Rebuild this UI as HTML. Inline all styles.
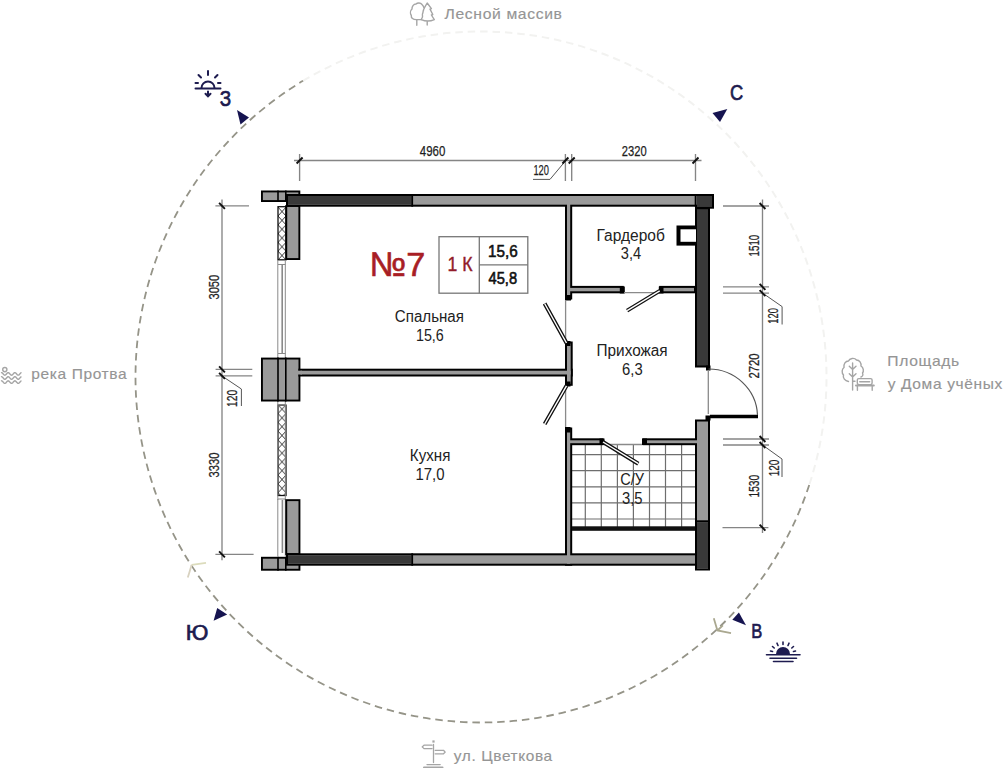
<!DOCTYPE html>
<html><head><meta charset="utf-8">
<style>
html,body{margin:0;padding:0;background:#fff;width:1003px;height:768px;overflow:hidden}
svg{position:absolute;left:0;top:0;display:block}
text{font-family:"Liberation Sans",sans-serif}
.dim{fill:#1e1e1e;stroke:#1e1e1e;stroke-width:0.25px;font-size:13.5px}
.room{fill:#222;font-size:15.5px}
.lbl{fill:#959595;stroke:#959595;stroke-width:0.15px;font-size:15px}
.cmp{fill:#1d1b4f;stroke:#1d1b4f;stroke-width:0.7px;font-size:19px}
.no{fill:#a81e25;stroke:#a81e25;stroke-width:0.6px}
.k1{fill:#921c2a;stroke:#921c2a;stroke-width:0.4px}
.ar{fill:#111;stroke:#111;stroke-width:0.6px}
</style></head>
<body>
<svg width="1003" height="768" viewBox="0 0 1003 768">
<defs>
<pattern id="hatchA" patternUnits="userSpaceOnUse" x="278" y="242.4" width="8" height="8.8">
<path d="M0 0L8 8.8M8 0L0 8.8" stroke="#222" stroke-width="0.9"/>
</pattern>
<pattern id="hatchB" patternUnits="userSpaceOnUse" x="278" y="413.5" width="8" height="8.8">
<path d="M0 0L8 8.8M8 0L0 8.8" stroke="#222" stroke-width="0.9"/>
</pattern>
</defs>

<!-- dashed compass circle -->
<g id="circle">
<path d="M303.05 80.85A345.5 345.5 0 0 1 809.22 484.91" fill="none" stroke="#f2f2f0" stroke-width="2" stroke-dasharray="7.5 4.9"/>
<path d="M809.22 484.91A345.5 345.5 0 1 1 303.05 80.85" fill="none" stroke="#959488" stroke-width="1.8" stroke-dasharray="7.5 4.9"/>
</g>

<!-- ===== PLAN ===== -->
<g id="plan">
<!-- dimension lines -->
<g stroke="#858585" stroke-width="1.35" fill="none">
<path d="M294 160.5H701.5"/>
<path d="M299.6 154V181M565.4 154V181M571.7 154V181M695.5 154V181"/>
<path d="M222 199.5V560.3"/>
<path d="M215.4 205.8H249M215.6 369.4H252.3M215.6 375.9H252.3M215.4 554.4H253.6"/>
<path d="M762.5 199.5V533"/>
<path d="M723 206H769M723 286.9H769M723 293.1H769M723 439H769M723 445H769M722.5 527.6H768.4"/>
</g>
<g stroke="#555" stroke-width="1" fill="none">
<path d="M533 179.4H550L565.4 161"/>
<path d="M222 376L241.4 389V406"/>
<path d="M762.5 293L782.1 306.6V324.5"/>
<path d="M762.5 445L782 459V477"/>
</g>
<g stroke="#111" stroke-width="1.9">
<path d="M296.6 163.5L302.6 157.5M562.4 163.5L568.4 157.5M568.7 163.5L574.7 157.5M692.5 163.5L698.5 157.5M219.1 202.8L224.9 208.8M219.1 366.4L224.9 372.4M219.1 372.9L224.9 378.9M219.1 551.4L224.9 557.4M759.6 203.0L765.4 209.0M759.6 283.9L765.4 289.9M759.6 290.1L765.4 296.1M759.6 436.0L765.4 442.0M759.6 442.0L765.4 448.0M759.6 524.6L765.4 530.6"/>
</g>

<g stroke="#6e6e6e" stroke-width="1.2">
<path d="M585.3 445V527M601.3 445V527M617.4 445V527M633.4 445V527M649.5 445V527M665.5 445V527M681.6 445V527M572 454.6H695M572 470.7H695M572 486.8H695M572 502.9H695M572 519.0H695"/>
</g>
<rect x="278.00" y="206.70" width="8.00" height="53.10" fill="url(#hatchA)" stroke="#111" stroke-width="1.3"/>
<rect x="278.00" y="405.10" width="8.00" height="90.40" fill="url(#hatchB)" stroke="#111" stroke-width="1.3"/>
<g stroke="#8a8a8a" stroke-width="1" fill="none"><path d="M277.8 260V358M285.3 260V358M277.8 401V500M285.3 401V500M277.8 499V556M285.3 499V556M278 264.5H285.5M278 499H285.5M278 405H285.5M278 353.5H285.5"/></g>
<g stroke="#8a8a8a" stroke-width="1.6"><path d="M282.2 265V353M282.4 500V553"/></g>
<rect x="261.00" y="190.50" width="39.30" height="11.50" fill="#000"/>
<rect x="262.90" y="192.40" width="35.50" height="7.70" fill="#9a9a9a"/>
<path d="M278 190.5V202M285.8 190.5V202" stroke="#000" stroke-width="1.6"/>
<rect x="261.00" y="357.60" width="39.40" height="43.90" fill="#000"/>
<rect x="262.90" y="359.50" width="35.60" height="40.10" fill="#9a9a9a"/>
<path d="M278 357.6V401.5M285.8 357.6V401.5" stroke="#000" stroke-width="1.6"/>
<rect x="261.00" y="556.80" width="39.40" height="13.90" fill="#000"/>
<rect x="262.90" y="558.70" width="35.60" height="10.10" fill="#9a9a9a"/>
<path d="M278 556.8V570.7M285.8 556.8V570.7" stroke="#000" stroke-width="1.6"/>
<rect x="285.30" y="205.00" width="15.00" height="55.00" fill="#000"/>
<rect x="287.20" y="206.90" width="11.20" height="51.20" fill="#9a9a9a"/>
<rect x="285.30" y="499.20" width="15.10" height="55.80" fill="#000"/>
<rect x="287.20" y="501.10" width="11.30" height="52.00" fill="#9a9a9a"/>
<rect x="286.00" y="194.00" width="428.00" height="12.70" fill="#000"/>
<rect x="695.00" y="194.00" width="19.00" height="14.70" fill="#000"/>
<rect x="695.00" y="207.20" width="15.00" height="160.30" fill="#000"/>
<rect x="695.00" y="419.50" width="15.00" height="151.00" fill="#000"/>
<rect x="286.00" y="553.30" width="411.00" height="12.40" fill="#000"/>
<rect x="565.00" y="194.00" width="7.20" height="105.50" fill="#000"/>
<rect x="298.40" y="368.70" width="274.30" height="7.80" fill="#000"/>
<rect x="565.00" y="341.50" width="7.70" height="44.30" fill="#000"/>
<rect x="565.00" y="427.50" width="7.20" height="138.20" fill="#000"/>
<rect x="565.00" y="285.90" width="58.80" height="7.40" fill="#000"/>
<rect x="659.20" y="285.90" width="36.80" height="7.40" fill="#000"/>
<rect x="565.00" y="438.30" width="38.50" height="6.90" fill="#000"/>
<rect x="642.50" y="438.30" width="67.50" height="6.90" fill="#000"/>
<rect x="288.00" y="196.00" width="424.00" height="8.70" fill="#9a9a9a"/>
<rect x="697.00" y="421.50" width="11.00" height="147.00" fill="#9a9a9a"/>
<rect x="288.00" y="555.30" width="407.00" height="8.40" fill="#9a9a9a"/>
<rect x="567.00" y="196.00" width="3.20" height="101.50" fill="#9a9a9a"/>
<rect x="300.40" y="370.70" width="270.30" height="3.80" fill="#9a9a9a"/>
<rect x="567.00" y="343.50" width="3.70" height="40.30" fill="#9a9a9a"/>
<rect x="567.00" y="429.50" width="3.20" height="134.20" fill="#9a9a9a"/>
<rect x="567.00" y="287.90" width="54.80" height="3.40" fill="#9a9a9a"/>
<rect x="661.20" y="287.90" width="32.80" height="3.40" fill="#9a9a9a"/>
<rect x="567.00" y="440.30" width="34.50" height="2.90" fill="#9a9a9a"/>
<rect x="644.50" y="440.30" width="63.50" height="2.90" fill="#9a9a9a"/>
<rect x="697.00" y="196.00" width="15.00" height="10.70" fill="#393939"/>
<rect x="697.00" y="209.20" width="11.00" height="156.30" fill="#393939"/>
<rect x="297.50" y="370.70" width="4.50" height="3.80" fill="#9a9a9a"/>
<rect x="288.00" y="196.00" width="123.50" height="8.70" fill="#393939"/>
<rect x="288.00" y="555.30" width="123.50" height="8.40" fill="#393939"/>
<rect x="411.30" y="194.00" width="1.80" height="12.70" fill="#000"/>
<rect x="411.30" y="553.30" width="1.80" height="12.40" fill="#000"/>
<rect x="697.00" y="196.00" width="15.00" height="10.70" fill="#393939"/>
<rect x="697.00" y="196.00" width="15.00" height="10.70" fill="#393939"/>
<rect x="695.00" y="520.30" width="15.00" height="1.80" fill="#000"/>
<rect x="697.00" y="522.10" width="11.00" height="46.40" fill="#393939"/>
<rect x="694.70" y="194.00" width="1.80" height="12.70" fill="#000"/>
<rect x="572.00" y="526.30" width="123.00" height="4.50" fill="#111"/>
<rect x="565.00" y="295.00" width="6.00" height="5.50" fill="#000"/>
<rect x="565.50" y="341.00" width="5.00" height="5.00" fill="#000"/>
<rect x="565.50" y="381.50" width="5.00" height="5.00" fill="#000"/>
<rect x="565.00" y="427.00" width="5.50" height="5.50" fill="#000"/>
<rect x="619.80" y="286.50" width="5.00" height="7.00" fill="#000"/>
<rect x="658.80" y="286.50" width="4.70" height="7.00" fill="#000"/>
<rect x="599.50" y="438.50" width="5.00" height="6.50" fill="#000"/>
<rect x="642.00" y="438.50" width="5.00" height="6.50" fill="#000"/>
<rect x="706.00" y="365.50" width="4.50" height="5.00" fill="#000"/>
<rect x="705.50" y="415.50" width="5.00" height="5.00" fill="#000"/>
<rect x="676.50" y="225.50" width="19.50" height="20.10" fill="#000"/>
<rect x="680.50" y="229.30" width="15.50" height="12.50" fill="#fff"/>
<g stroke="#8a8a8a" stroke-width="1.3" fill="none"><path d="M624 292.6H659M565.6 300V341M565.6 386V427M708.3 370V414M604 444.5H642"/></g>
<path d="M659.7 290.9L627.1 310.6M566.5 343L544.6 303.5M566.5 385.8L544.7 424M603 442L638.3 463.7" stroke="#111" stroke-width="4" stroke-linecap="butt"/>
<path d="M659.7 290.9L627.1 310.6M566.5 343L544.6 303.5M566.5 385.8L544.7 424M603 442L638.3 463.7" stroke="#fff" stroke-width="1.4" stroke-linecap="butt"/>
<path d="M710 416.5H758" stroke="#000" stroke-width="3.6"/>
<path d="M708.5 369A49 48 0 0 1 757.5 415" fill="none" stroke="#555" stroke-width="1.2"/>
</g>

<!-- room labels -->

<!-- info box -->
<g fill="none" stroke="#777" stroke-width="1.3">
<rect x="439" y="236.7" width="88.8" height="56.5"/>
<path d="M479.3 236.7V293.2M479.3 264.8H527.8"/>
</g>

<!-- compass -->
<g fill="#161450">
<path d="M237 110L249 117.5L240.5 124.5Z"/>
<path d="M712.5 113L727.3 109L720 122Z"/>
<path d="M732.3 619.7L738.9 612.6L746 625.2Z"/>
<path d="M217.2 608L227.2 614.4L213.6 620.8Z"/>
</g>
<!-- sun icons -->
<g stroke="#1d1b4f" stroke-width="2" fill="none" stroke-linecap="round">
<path d="M195.5 88.5H220.5"/>
<path d="M201.5 88A6.5 6.5 0 0 1 214.5 88"/>
<path d="M208 71V75M198.5 75L201 77.5M217.5 75L215 77.5M195.5 83H198M218 83H220.5"/>
<path d="M208 91.5V96M205.5 93.8L208 96.3L210.5 93.8"/>
</g>
<g fill="#1d1b4f">
<path d="M776 654A7 7 0 0 1 790 654Z"/>
</g>
<g stroke="#1d1b4f" stroke-width="1.6" fill="none" stroke-linecap="round">
<path d="M766.5 654.8H800M770 658.3H796.5M773.5 661.5H793"/>
<path d="M783 642V644.5M777 643.2L778 645.5M789 643.2L788 645.5M772.5 646.5L774.2 648M793.5 646.5L791.8 648M770.5 651L772.5 651.5M795.5 651L793.5 651.5"/>
</g>
<!-- Y marks -->
<g stroke="#bdb99d" stroke-width="1.8" fill="none">
<path d="M191.7 564.8L206 562.8" stroke="#dcdcbc"/><path d="M191.7 564.8L187.8 577.6" stroke="#d8d2c0"/>
<path d="M713.8 618.3L717.4 630.5L731 633.1M717.4 630.5L722.9 625.3" stroke="#aaa890"/>
</g>

<!-- side labels -->
<!-- side icons -->
<g stroke="#a5a5a5" stroke-width="1.4" fill="none" stroke-linecap="round" stroke-linejoin="round">
<!-- trees -->
<path d="M416.8 19.6V25.2"/>
<path d="M416.8 19.6C413 19.8 411 18 411.3 15.5C410 13.5 410.3 10.5 412 9C411.8 6.5 413.5 4 416 4C417.5 2.5 420.5 2.5 422 4.5C423 5.5 423.8 7 424.2 8.2"/>
<path d="M423.8 9.5C422.8 11 423.3 12.5 422.4 14C422.9 15.5 422.2 18 421.2 19.6L416.8 19.6"/>
<path d="M424.2 8.2L427.2 3L431.4 8.6L430 9.2L432.8 14.5L431.4 15L434.3 19.6Q428 22.5 421.2 19.6M427.2 21.2V25"/>
<!-- waves -->
<circle cx="4.8" cy="369.6" r="2.1"/>
<path d="M1.5 372.60 L2.0 372.74 L2.5 373.13 L3.0 373.69 L3.5 374.29 L4.0 374.81 L4.5 375.13 L5.0 375.19 L5.5 374.97 L6.0 374.51 L6.5 373.93 L7.0 373.34 L7.5 372.87 L8.0 372.62 L8.5 372.65 L9.0 372.95 L9.5 373.45 L10.0 374.05 L10.5 374.62 L11.0 375.03 L11.5 375.20 L12.0 375.09 L12.5 374.72 L13.0 374.17 L13.5 373.57 L14.0 373.04 L14.5 372.69 L15.0 372.61 L15.5 372.80 L16.0 373.23 L16.5 373.81 L17.0 374.40 L17.5 374.89 L18.0 375.16 L18.5 375.16 L19.0 374.89 L19.5 374.40 L20.0 373.81 L20.5 373.23 L21.0 372.80"/>
<path d="M1.5 376.70 L2.0 376.84 L2.5 377.23 L3.0 377.79 L3.5 378.39 L4.0 378.91 L4.5 379.23 L5.0 379.29 L5.5 379.07 L6.0 378.61 L6.5 378.03 L7.0 377.44 L7.5 376.97 L8.0 376.72 L8.5 376.75 L9.0 377.05 L9.5 377.55 L10.0 378.15 L10.5 378.72 L11.0 379.13 L11.5 379.30 L12.0 379.19 L12.5 378.82 L13.0 378.27 L13.5 377.67 L14.0 377.14 L14.5 376.79 L15.0 376.71 L15.5 376.90 L16.0 377.33 L16.5 377.91 L17.0 378.50 L17.5 378.99 L18.0 379.26 L18.5 379.26 L19.0 378.99 L19.5 378.50 L20.0 377.91 L20.5 377.33 L21.0 376.90"/>
<path d="M1.5 380.80 L2.0 380.94 L2.5 381.33 L3.0 381.89 L3.5 382.49 L4.0 383.01 L4.5 383.33 L5.0 383.39 L5.5 383.17 L6.0 382.71 L6.5 382.13 L7.0 381.54 L7.5 381.07 L8.0 380.82 L8.5 380.85 L9.0 381.15 L9.5 381.65 L10.0 382.25 L10.5 382.82 L11.0 383.23 L11.5 383.40 L12.0 383.29 L12.5 382.92 L13.0 382.37 L13.5 381.77 L14.0 381.24 L14.5 380.89 L15.0 380.81 L15.5 381.00 L16.0 381.43 L16.5 382.01 L17.0 382.60 L17.5 383.09 L18.0 383.36 L18.5 383.36 L19.0 383.09 L19.5 382.60 L20.0 382.01 L20.5 381.43 L21.0 381.00"/>
<!-- tree+bench -->
<path d="M852.6 363V390M849.3 366.3L852.6 369.5L856 366.3M849.3 373.8L852.6 377L856 373.8M852.6 381.2H855"/>
<path d="M848.5 381.5C845 381 842.5 378 843.5 375C841.5 373 841.8 369 844 367.5C843.5 364 845.5 361 848.5 361C849.5 358 854.5 357.5 856.5 360C859.5 360 861.5 363 861 366C863.5 367.5 864 371 862.5 373C863.5 375 862.5 376.5 861 377"/>
<rect x="857.3" y="378.6" width="14.8" height="6" rx="1.5"/>
<path d="M859.8 381.7H869.6" stroke-width="1.6"/>
<path d="M856 385.6H873.8" stroke-width="2"/>
<path d="M857.4 386.5V390.2M872.2 386.5V390.2"/>
<!-- signpost -->
<path d="M433.5 744.5V762.5M432 745.2H424L422.2 746.9L424 748.6H432M435.2 750.3H443.5L445.2 752.1L443.5 753.8H435.2M427 764.6H440.2" stroke-width="1.3"/><path d="M424 767.4H442.5" stroke-width="2"/><rect x="432.4" y="740.4" width="2.2" height="2.2" fill="#a5a5a5" stroke="none"/>
</g>
<text x="419.810" y="155.800" class="dim" style="font-size:14.500px" textLength="25.490" lengthAdjust="spacingAndGlyphs">4960</text>
<text x="621.810" y="155.700" class="dim" style="font-size:14.500px" textLength="24.860" lengthAdjust="spacingAndGlyphs">2320</text>
<text x="533.440" y="175.100" class="dim" style="font-size:14.500px" textLength="15.530" lengthAdjust="spacingAndGlyphs">120</text>
<text transform="translate(218.900 299.560) rotate(-90)" class="dim" style="font-size:14.500px" textLength="24.860" lengthAdjust="spacingAndGlyphs">3050</text>
<text transform="translate(219.100 477.410) rotate(-90)" class="dim" style="font-size:14.500px" textLength="24.860" lengthAdjust="spacingAndGlyphs">3330</text>
<text transform="translate(237.400 406.890) rotate(-90)" class="dim" style="font-size:14.500px" textLength="17.190" lengthAdjust="spacingAndGlyphs">120</text>
<text transform="translate(758.600 256.410) rotate(-90)" class="dim" style="font-size:14.500px" textLength="21.710" lengthAdjust="spacingAndGlyphs">1510</text>
<text transform="translate(759.300 378.450) rotate(-90)" class="dim" style="font-size:14.500px" textLength="24.900" lengthAdjust="spacingAndGlyphs">2720</text>
<text transform="translate(759.300 497.560) rotate(-90)" class="dim" style="font-size:14.500px" textLength="22.860" lengthAdjust="spacingAndGlyphs">1530</text>
<text transform="translate(778.450 323.670) rotate(-90)" class="dim" style="font-size:14.500px" textLength="15.640" lengthAdjust="spacingAndGlyphs">120</text>
<text transform="translate(778.700 476.300) rotate(-90)" class="dim" style="font-size:14.500px" textLength="16.600" lengthAdjust="spacingAndGlyphs">120</text>
<text x="394.850" y="321.900" class="room" style="font-size:15.600px" textLength="69.080" lengthAdjust="spacingAndGlyphs">Спальная</text>
<text x="415.960" y="340.700" class="room" style="font-size:15.600px" textLength="27.860" lengthAdjust="spacingAndGlyphs">15,6</text>
<text x="409.850" y="461.200" class="room" style="font-size:15.600px" textLength="40.560" lengthAdjust="spacingAndGlyphs">Кухня</text>
<text x="415.480" y="479.800" class="room" style="font-size:15.600px" textLength="29.080" lengthAdjust="spacingAndGlyphs">17,0</text>
<text x="596.520" y="241.300" class="room" style="font-size:15.600px" textLength="68.300" lengthAdjust="spacingAndGlyphs">Гардероб</text>
<text x="620.850" y="259.200" class="room" style="font-size:15.600px" textLength="20.340" lengthAdjust="spacingAndGlyphs">3,4</text>
<text x="596.520" y="356.300" class="room" style="font-size:15.600px" textLength="71.150" lengthAdjust="spacingAndGlyphs">Прихожая</text>
<text x="622.070" y="374.500" class="room" style="font-size:15.600px" textLength="20.600" lengthAdjust="spacingAndGlyphs">6,3</text>
<text x="620.180" y="484.600" class="room" style="font-size:15.600px" textLength="23.790" lengthAdjust="spacingAndGlyphs">С/У</text>
<text x="621.960" y="503.500" class="room" style="font-size:15.600px" textLength="20.600" lengthAdjust="spacingAndGlyphs">3,5</text>
<text x="369.640" y="275.900" class="no" style="font-size:34.000px" textLength="55.730" lengthAdjust="spacingAndGlyphs">№7</text>
<text x="447.590" y="271.400" class="k1" style="font-size:19.700px" textLength="25.010" lengthAdjust="spacingAndGlyphs">1 К</text>
<text x="488.110" y="256.500" class="ar" style="font-size:16.400px" textLength="29.670" lengthAdjust="spacingAndGlyphs">15,6</text>
<text x="488.550" y="283.700" class="ar" style="font-size:16.400px" textLength="28.530" lengthAdjust="spacingAndGlyphs">45,8</text>
<text x="219.700" y="106.200" class="cmp" style="font-size:21.500px" textLength="11.450" lengthAdjust="spacingAndGlyphs">З</text>
<text x="730.110" y="99.900" class="cmp" style="font-size:22.000px" textLength="13.190" lengthAdjust="spacingAndGlyphs">С</text>
<text x="751.260" y="638.100" class="cmp" style="font-size:20.000px" textLength="11.040" lengthAdjust="spacingAndGlyphs">В</text>
<text x="185.780" y="639.800" class="cmp" style="font-size:21.500px" textLength="22.630" lengthAdjust="spacingAndGlyphs">Ю</text>
<text x="444.550" y="18.900" class="lbl" style="font-size:14.800px;letter-spacing:0.6px" textLength="117.970" lengthAdjust="spacingAndGlyphs">Лесной массив</text>
<text x="31.220" y="379.400" class="lbl" style="font-size:14.800px;letter-spacing:0.6px" textLength="96.080" lengthAdjust="spacingAndGlyphs">река Протва</text>
<text x="887.370" y="366.300" class="lbl" style="font-size:14.800px;letter-spacing:0.6px" textLength="72.520" lengthAdjust="spacingAndGlyphs">Площадь</text>
<text x="887.700" y="388.900" class="lbl" style="font-size:14.800px;letter-spacing:0.6px" textLength="115.248" lengthAdjust="spacingAndGlyphs">у Дома учёных</text>
<text x="453.810" y="761.300" class="lbl" style="font-size:14.800px;letter-spacing:0.6px" textLength="99.010" lengthAdjust="spacingAndGlyphs">ул. Цветкова</text>
</svg>
</body></html>
